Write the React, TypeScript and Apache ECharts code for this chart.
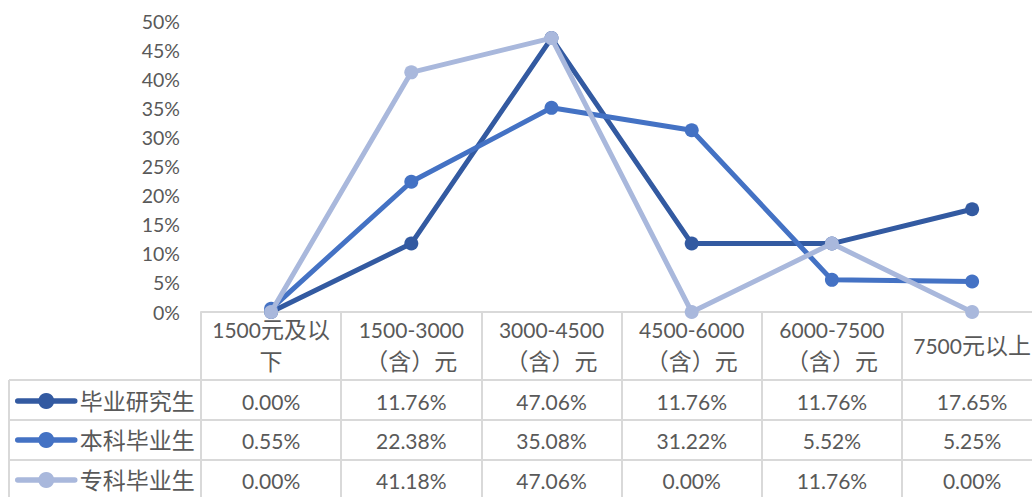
import React, { useEffect, useRef } from "react";
import * as echarts from "echarts";

const categories = [
  "1500元及以\n下",
  "1500-3000\n（含）元",
  "3000-4500\n（含）元",
  "4500-6000\n（含）元",
  "6000-7500\n（含）元",
  "7500元以上",
];
const seriesNames = ["毕业研究生", "本科毕业生", "专科毕业生"];
const graduate = [0, 11.76, 47.06, 11.76, 11.76, 17.65];
const undergrad = [0.55, 22.38, 35.08, 31.22, 5.52, 5.25];
const college = [0, 41.18, 47.06, 0, 11.76, 0];
const seriesValues = [graduate, undergrad, college];
const seriesColors = ["#335aa1", "#4472c4", "#a9b8dc"];

const FONT = "Lato, 'Noto Sans CJK SC', sans-serif";
const TEXT = "#595959";
const LINE = "#d9d9d9";

export default function App() {
  const ref = useRef<HTMLDivElement>(null);
  useEffect(() => {
    if (!ref.current) return;
    const chart = echarts.init(ref.current, undefined, { renderer: "svg" });
    const gridLeft = 201;
    const colW = 140.2;
    const rowCenters = [401, 440, 480];
    const rowLines = [380, 420, 460];

    const graphics: any[] = [];
    rowLines.forEach((y) => {
      graphics.push({
        type: "line",
        shape: { x1: 9, y1: y, x2: 1060, y2: y },
        style: { stroke: LINE, lineWidth: 2 },
        silent: true,
      });
    });
    graphics.push({
      type: "line",
      shape: { x1: 9, y1: 380, x2: 9, y2: 497 },
      style: { stroke: LINE, lineWidth: 2 },
      silent: true,
    });
    seriesValues.forEach((vals, r) => {
      vals.forEach((v, c) => {
        graphics.push({
          type: "text",
          x: gridLeft + colW * (c + 0.5),
          y: rowCenters[r],
          style: {
            text: v.toFixed(2) + "%",
            font: `21px ${FONT}`,
            fill: TEXT,
            align: "center",
            verticalAlign: "middle",
          },
          silent: true,
        });
      });
    });

    chart.setOption({
      animation: false,
      grid: { left: gridLeft, top: 21, width: colW * 6, height: 291, containLabel: false },
      legend: seriesNames.map((n, i) => ({
        data: [n],
        orient: "vertical",
        left: 15,
        top: rowCenters[i] - 12,
        padding: 0,
        itemWidth: 57,
        itemHeight: 20,
        itemGap: 0,
        textStyle: { fontSize: 23, fontFamily: FONT, color: TEXT, lineHeight: 24 },
        lineStyle: { width: 5.5, cap: "round" },
        selectedMode: false,
      })),
      xAxis: {
        type: "category",
        data: categories,
        boundaryGap: true,
        axisLine: { show: true, lineStyle: { color: LINE, width: 2 } },
        axisTick: { show: true, length: 190, lineStyle: { color: LINE, width: 2 } },
        axisLabel: {
          interval: 0,
          margin: 33,
          verticalAlign: "middle",
          fontSize: 21,
          lineHeight: 32,
          fontFamily: FONT,
          color: TEXT,
          formatter: (v: string) =>
            v
              .split("\n")
              .map((line) => line.replace(/([^\x00-\x7f]+)/g, "{c|$1}"))
              .join("\n"),
          rich: {
            c: { fontSize: 23, fontFamily: FONT, color: TEXT, lineHeight: 32 },
          },
        },
        splitLine: { show: false },
      },
      yAxis: {
        type: "value",
        min: 0,
        max: 50,
        interval: 5,
        axisLine: { show: false },
        axisTick: { show: false },
        splitLine: { show: false },
        axisLabel: {
          formatter: "{value}%",
          margin: 21,
          fontSize: 19.5,
          fontFamily: FONT,
          color: TEXT,
        },
      },
      graphic: graphics,
      series: seriesNames.map((n, i) => ({
        name: n,
        type: "line",
        data: seriesValues[i],
        symbol: "circle",
        symbolSize: 14,
        lineStyle: { width: 5, color: seriesColors[i] },
        itemStyle: { color: seriesColors[i] },
        z: 2 + i,
      })),
    });
    return () => chart.dispose();
  }, []);
  return (
    <div
      style={{
        position: "absolute",
        left: 0,
        top: 0,
        width: 1032,
        height: 497,
        overflow: "hidden",
      }}
    >
      <div ref={ref} style={{ width: 1060, height: 497 }} />
    </div>
  );
}
